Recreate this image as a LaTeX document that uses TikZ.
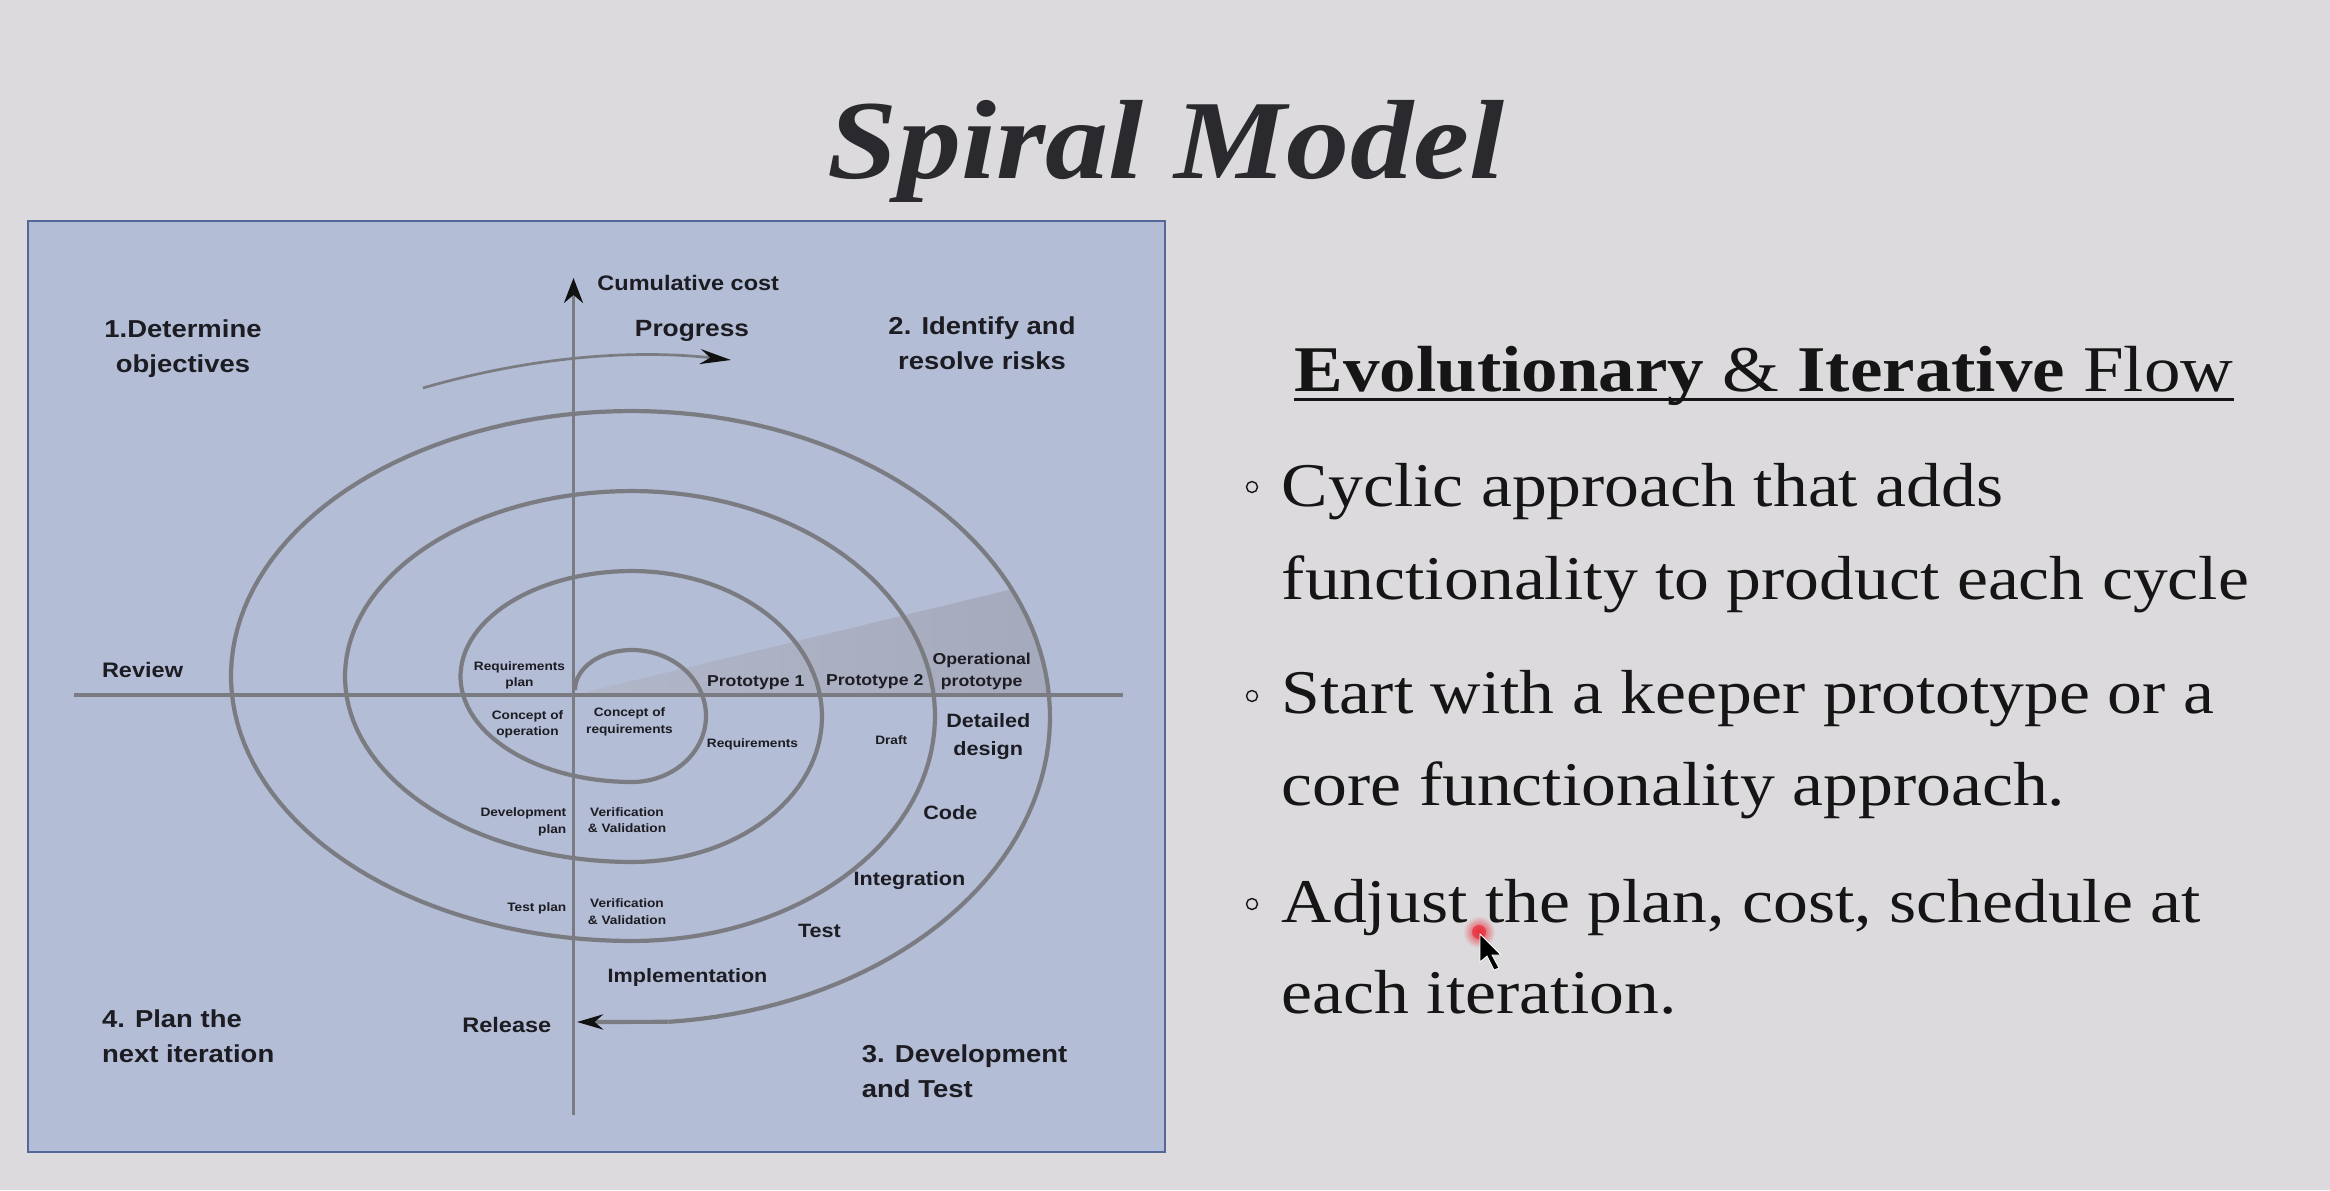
\documentclass[tikz,border=0pt]{standalone}
\usepackage{fontspec}
\usetikzlibrary{arrows.meta}

% Slide fonts (slightly widened faces)
\newfontfamily\labelfont[FakeStretch=1.12]{Liberation Sans}
\newfontfamily\slidefont[FakeStretch=1.12]{Liberation Serif}

\definecolor{slidebg}{HTML}{DCDADD}
\definecolor{panelfill}{HTML}{B4BDD6}
\definecolor{panelrim}{HTML}{55669A}
\definecolor{wedgelight}{HTML}{B1B6C9}
\definecolor{wedgedark}{HTML}{A4A8BB}
\definecolor{spiralgray}{HTML}{7B7C81}
\definecolor{labelink}{HTML}{1C1C22}
\definecolor{tipink}{HTML}{111111}
\definecolor{titleink}{HTML}{2A2A2E}
\definecolor{textink}{HTML}{151515}
\definecolor{cursorred}{HTML}{E8303C}

\newcommand\setfs[2]{\fontsize{#1}{#2}\selectfont}
\newcommand\twoline[3]{\begin{tabular}[t]{@{}#1@{}}#2\\#3\end{tabular}}

\begin{document}
\begin{tikzpicture}[x=0.5pt, y=-0.5pt,
  lab/.style={inner sep=0, text=labelink},
  cornerlab/.style={lab, font=\labelfont\bfseries\setfs{12.25pt}{17.7pt}},
  progresslab/.style={lab, font=\labelfont\bfseries\setfs{11.75pt}{14pt}},
  axislab/.style={lab, font=\labelfont\bfseries\setfs{10.5pt}{13pt}},
  phaselab/.style={lab, font=\labelfont\bfseries\setfs{9.65pt}{13.7pt}},
  protolab/.style={lab, font=\labelfont\bfseries\setfs{7.9pt}{11pt}},
  smalllab/.style={lab, font=\labelfont\bfseries\setfs{6.1pt}{8.35pt}},
  axisline/.style={draw=spiralgray, line width=1.7pt},
  spiralline/.style={draw=spiralgray, line width=2.1pt, line join=round},
  progline/.style={draw=spiralgray, line width=1.35pt},
  bullettext/.style={anchor=base west, inner sep=0, text=textink,
    font=\slidefont\setfs{31.1pt}{36pt}},
  bulletmark/.style={circle, draw=textink, line width=0.7pt, minimum size=5.5pt, inner sep=0},
]
\useasboundingbox (0,0) rectangle (2330,1190);
\fill[slidebg] (0,0) rectangle (2330,1190);

% Title
\node[anchor=base, inner sep=0, text=titleink,
  font=\slidefont\bfseries\itshape\setfs{56.3pt}{60pt}] (title) at (1166,178) {Spiral Model};

% Diagram panel
\filldraw[fill=panelfill, draw=panelrim, line width=1.3pt] (28,221) rectangle (1165,1152);

% Shaded prototype wedge, bounded by the outermost turn
\begin{scope}
  \clip plot[domain=0:360, samples=120] ({632+418*cos(\x)}, {717+306*sin(\x)}) -- cycle;
  \shade[left color=wedgelight, right color=wedgedark] (574,695) -- (1100,568) -- (1100,695) -- cycle;
\end{scope}

% Axes
\coordinate (xl) at (74,695);
\coordinate (xr) at (1123,695);
\coordinate (ybot) at (573.5,1115);
\coordinate (ytop) at (573.5,278);
\draw[axisline] (xl) -- (xr);
\draw[axisline, -{Stealth[length=12.5pt, width=9.5pt, color=tipink]}] (ybot) -- (ytop);

% Spiral: alternating right and left half-turns
\coordinate (spend) at (668.4,1021.8);
\coordinate (rel) at (577,1022);
\draw[spiralline]
  plot[domain=180:270, samples=25] ({632+57*cos(\x)}, {690+40*sin(\x)})
  -- plot[domain=270:450, samples=50] ({632+74*cos(\x)}, {716+66*sin(\x)})
  -- plot[domain=90:270, samples=60] ({632+171.5*cos(\x)}, {676.5+105.5*sin(\x)})
  -- plot[domain=-90:90, samples=60] ({632+190*cos(\x)}, {716.5+145.5*sin(\x)})
  -- plot[domain=90:270, samples=70] ({632+287*cos(\x)}, {676.5+185.5*sin(\x)})
  -- plot[domain=-90:90, samples=70] ({632+303*cos(\x)}, {716+225*sin(\x)})
  -- plot[domain=90:270, samples=80] ({632+401*cos(\x)}, {676+265*sin(\x)})
  -- plot[domain=-90:85, samples=80] ({632+418*cos(\x)}, {717+306*sin(\x)});
\draw[spiralline, -{Stealth[length=13pt, width=7.5pt, color=tipink]}] (spend) -- (rel);

% Progress arrow
\coordinate (pgs) at (423,388);
\coordinate (pge) at (731,360);
\draw[progline, -{Stealth[length=15.5pt, width=7.5pt, color=tipink]}]
  (pgs) .. controls (525.3,358.3) and (627.7,348.6) .. (pge);

% Labels
\node[axislab, anchor=base west] (cost) at (597,290) {Cumulative cost};
\node[progresslab, anchor=base] (progress) at (692,336) {Progress};
\node[cornerlab, anchor=base] (q1) at (183,337.5) {\twoline{c}{1.Determine}{objectives}};
\node[cornerlab, anchor=base] (q2) at (982,334.5) {\twoline{c}{2. Identify and}{resolve risks}};
\node[cornerlab, anchor=base west] (q4) at (101.6,1027) {\twoline{l}{4. Plan the}{next iteration}};
\node[cornerlab, anchor=base west] (q3) at (861.5,1062) {\twoline{l}{3. Development}{and Test}};
\node[axislab, anchor=base west] (review) at (101.6,677) {Review};
\node[axislab, anchor=base east] (release) at (551.7,1032.7) {Release};

\node[smalllab, anchor=base] (reqplan) at (519.5,670) {\twoline{c}{Requirements}{plan}};
\node[smalllab, anchor=base] (conop) at (527.5,719) {\twoline{c}{Concept of}{operation}};
\node[smalllab, anchor=base] (conreq) at (629.5,716.7) {\twoline{c}{Concept of}{requirements}};
\node[smalllab, anchor=base] (req) at (752.5,747.3) {Requirements};
\node[smalllab, anchor=base] (draft) at (891.2,744.3) {Draft};
\node[protolab, anchor=base] (proto1) at (755.7,686) {Prototype 1};
\node[protolab, anchor=base] (proto2) at (874.7,685) {Prototype 2};
\node[protolab, anchor=base] (opproto) at (981.7,664) {\twoline{c}{Operational}{prototype}};
\node[phaselab, anchor=base] (design) at (988.3,727.7) {\twoline{c}{Detailed}{design}};
\node[phaselab, anchor=base] (code) at (950.3,819) {Code};
\node[smalllab, anchor=base east] (devplan) at (566.7,816.7) {\twoline{r}{Development}{plan}};
\node[smalllab, anchor=base] (vv1) at (627,816) {\twoline{c}{Verification}{\& Validation}};
\node[phaselab, anchor=base west] (integ) at (853.3,885.6) {Integration};
\node[smalllab, anchor=base east] (testplan) at (566.7,911) {Test plan};
\node[smalllab, anchor=base] (vv2) at (627,907.3) {\twoline{c}{Verification}{\& Validation}};
\node[phaselab, anchor=base] (test) at (819.5,937.3) {Test};
\node[phaselab, anchor=base west] (impl) at (607.3,982.7) {Implementation};

% Right-hand text
\node[anchor=base west, inner sep=0, text=textink, font=\slidefont\setfs{32.6pt}{36pt}]
  (head) at (1294,391) {\textbf{Evolutionary} \& \textbf{Iterative} Flow};
\draw[textink, line width=1.5pt] ([yshift=-4pt]head.base west) -- ([yshift=-4pt]head.base east);

\node[bulletmark] (m1) at (1252,487) {};
\node[bulletmark] (m2) at (1252,696) {};
\node[bulletmark] (m3) at (1252,904) {};
\node[bullettext] (b1a) at (1281.4,506.7) {Cyclic approach that adds};
\node[bullettext] (b1b) at (1281.4,599) {functionality to product each cycle};
\node[bullettext] (b2a) at (1281.4,713.9) {Start with a keeper prototype or a};
\node[bullettext] (b2b) at (1281.4,805.7) {core functionality approach.};
\node[bullettext] (b3a) at (1281.4,922) {Adjust the plan, cost, schedule at};
\node[bullettext] (b3b) at (1281.4,1013.9) {each iteration.};

% Pointer with click highlight
\shade[inner color=cursorred, outer color=slidebg] (1479,932) circle[radius=8pt];
\fill[cursorred, opacity=0.7] (1479,932) circle[radius=3.5pt];
\filldraw[fill=black, draw=white, line width=0.4pt]
  (1480,934) -- ++(0,28) -- ++(7,-6) -- ++(7,14) -- ++(5,-2) -- ++(-7,-13) -- ++(9,0) -- cycle;
\end{tikzpicture}
\end{document}
